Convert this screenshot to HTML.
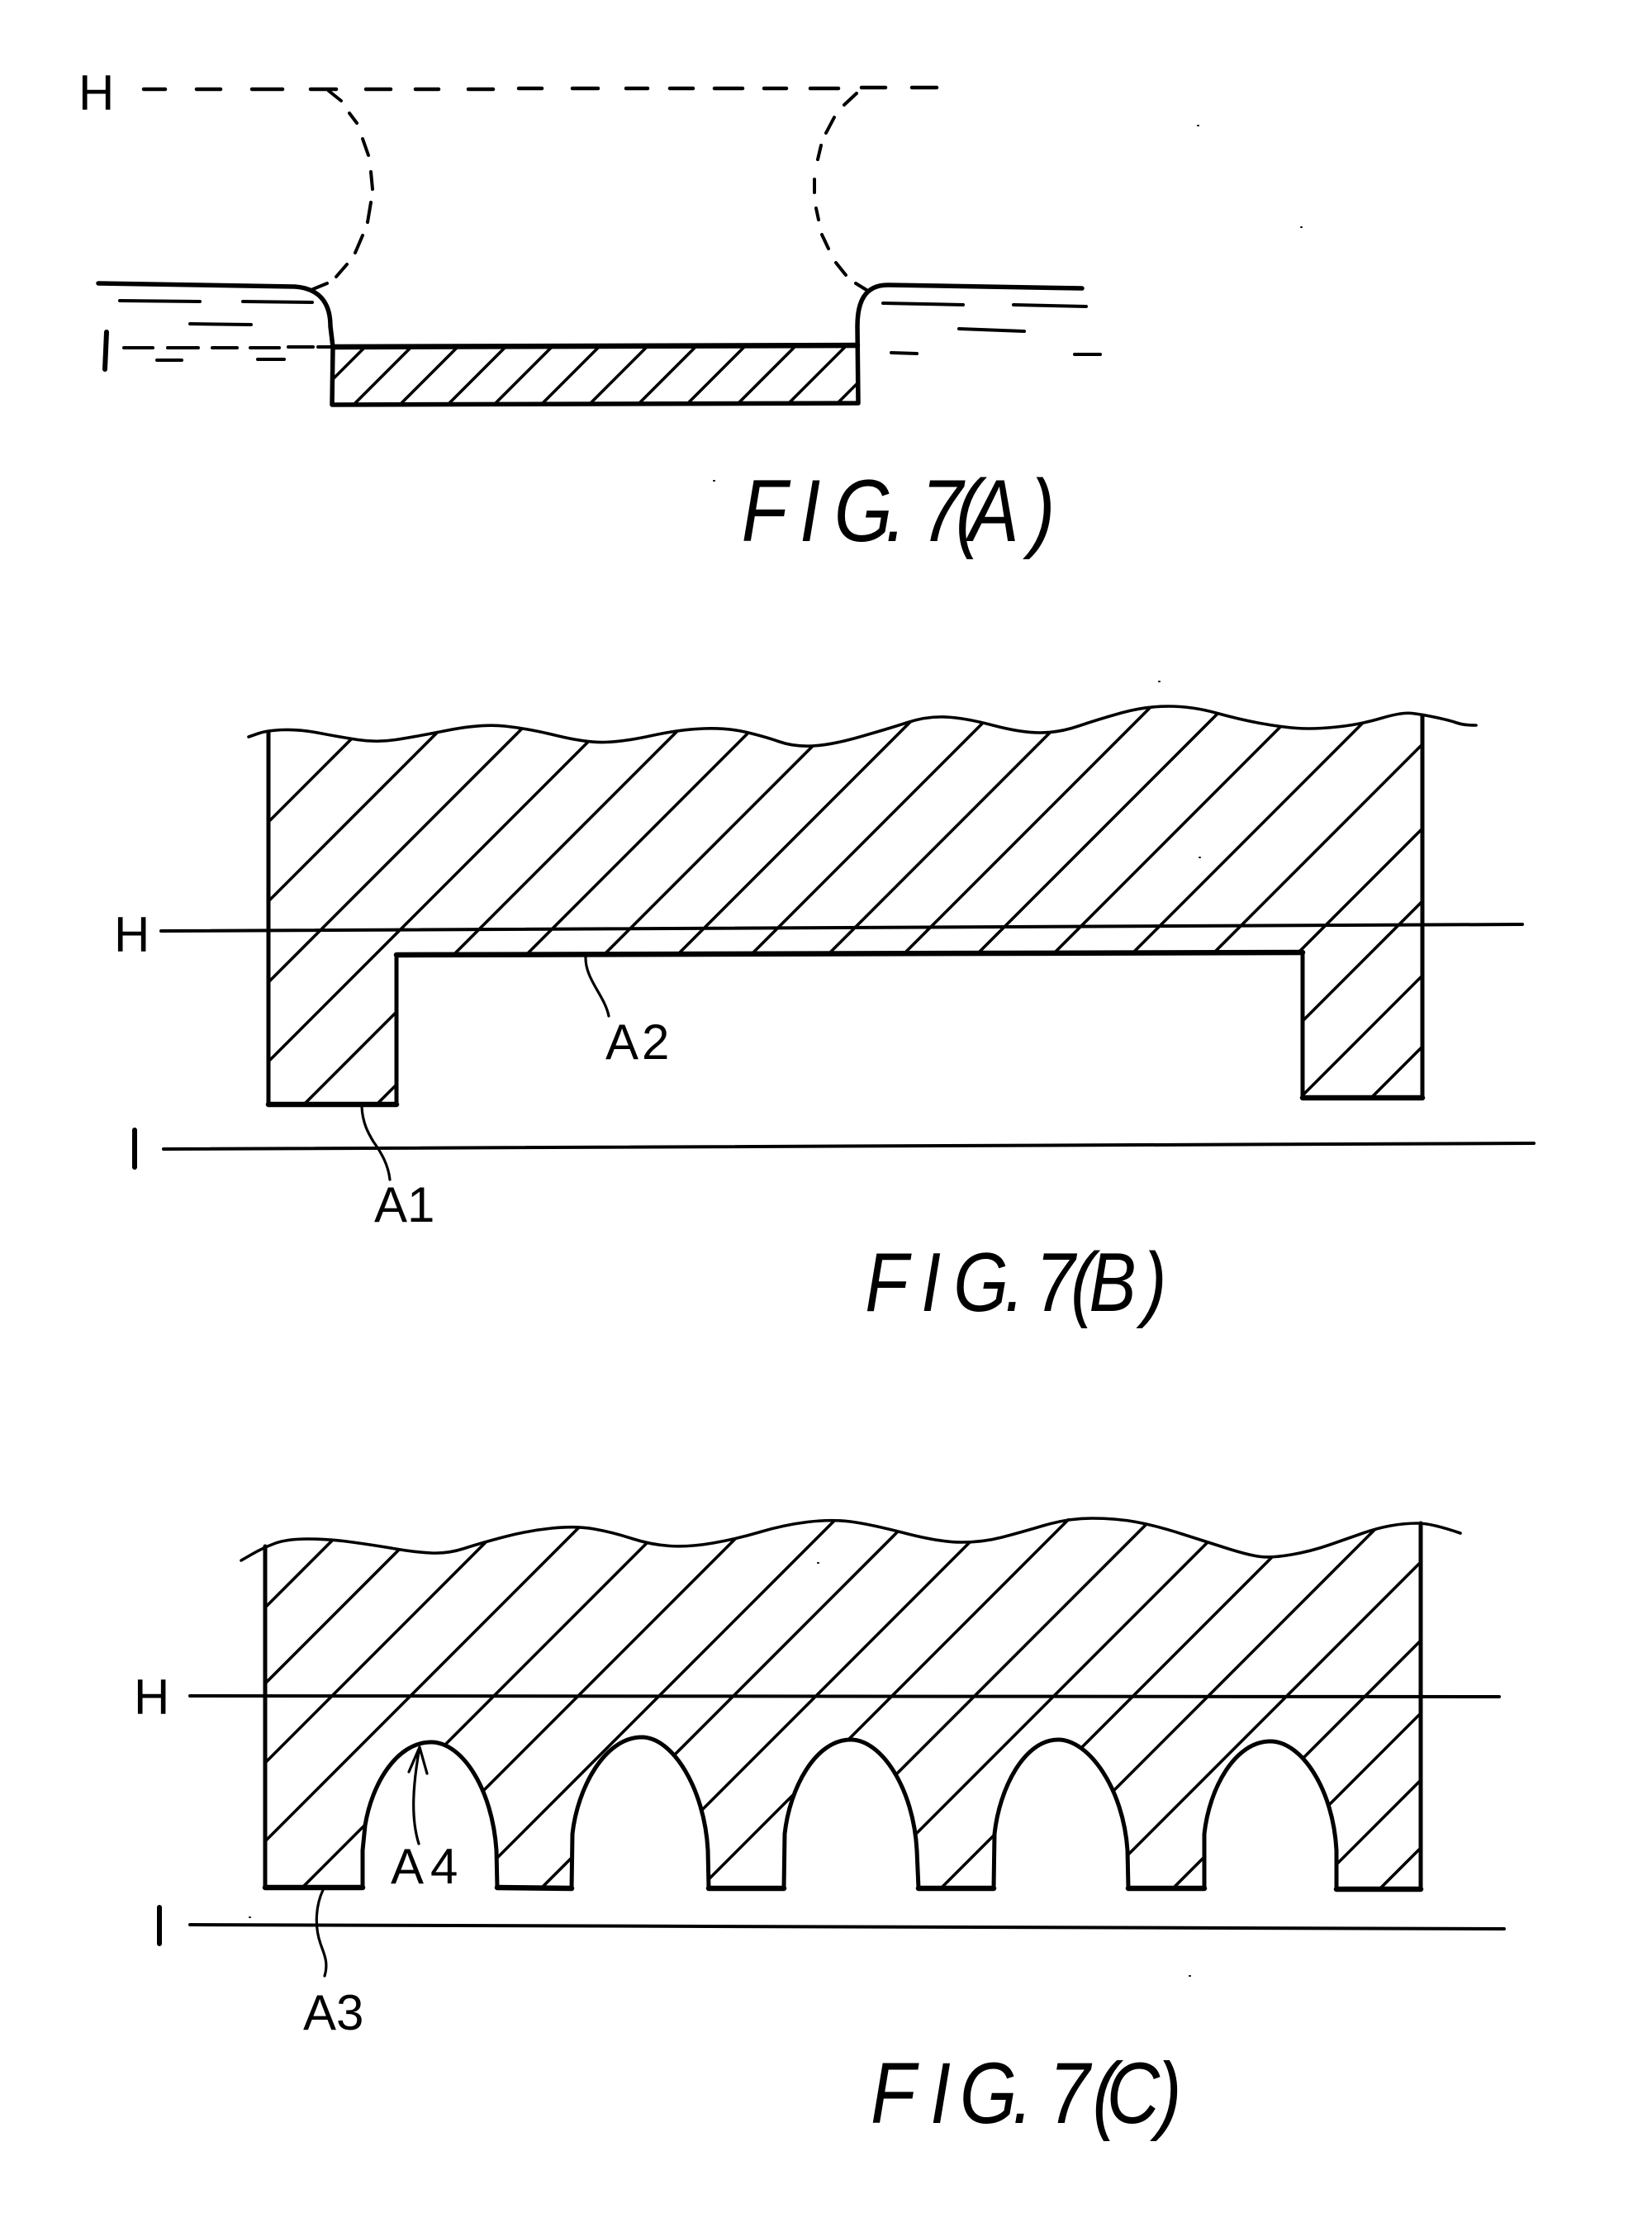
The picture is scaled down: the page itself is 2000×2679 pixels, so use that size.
<!DOCTYPE html>
<html><head><meta charset="utf-8"><title>FIG.7</title>
<style>
html,body{margin:0;padding:0;background:#fff}
svg{display:block}
text{font-family:"Liberation Sans",sans-serif;fill:#000}
.fig{font-style:italic}
.lbl{font-size:60px}
</style></head><body>
<svg xmlns="http://www.w3.org/2000/svg" width="2000" height="2679" viewBox="0 0 2000 2679">
<defs>
<clipPath id="ca"><rect x="404" y="420" width="633" height="68"/></clipPath>
<clipPath id="cb"><path d="M324 884L364 883L410 892L456 899L502 892L583 876L639 882L709 899L755 898L823 883L881 881L927 892L961 904L1006 902L1076 882L1122 867L1168 869L1236 887L1282 887L1329 871L1386 855L1443 855L1501 871L1550 880L1590 883L1647 877L1697 862L1722 865L1722 1329L1577 1329L1577 1153L480 1156L480 1337L325 1337Z"/></clipPath>
<clipPath id="cc"><path clip-rule="evenodd" d="M321 1870L347 1863L398 1863L456 1871L502 1879L542 1881L582 1868L639 1853L697 1847L742 1855L788 1870L834 1873L892 1863L949 1846L1006 1839L1053 1845L1138 1867L1190 1867L1236 1855L1293 1838L1351 1838L1400 1847L1462 1867L1513 1883L1540 1886L1587 1878L1633 1862L1667 1850L1700 1844L1720 1844L1720 2284L321 2284Z
M439 2284L439 2240L442 2210C450 2160 480 2109 522 2109C559 2109 596 2165 601 2240L602 2284Z
M692 2284L693 2220C699 2165 732 2103 777 2103C814 2103 853 2165 857 2240L858 2284Z
M949 2284L950 2220C956 2165 987 2106 1030 2106C1067 2106 1106 2165 1110 2240L1112 2284Z
M1203 2284L1204 2220C1210 2165 1240 2106 1281 2106C1318 2106 1360 2165 1365 2240L1366 2284Z
M1458 2284L1458 2220C1464 2165 1495 2108 1538 2108C1575 2108 1614 2165 1618 2240L1618 2284Z"/></clipPath>
</defs>
<rect width="2000" height="2679" fill="#fff"/>
<g fill="none" stroke="#000" stroke-linecap="round" stroke-linejoin="round">

<!-- FIG 7A -->
<path stroke-width="4.5" d="M174 108H200M238 108H267M305 108H342M376 108H407M443 108H473M503 108H531M567 108H597M628 107H656M693 107H724M758 107H784M811 107H839M865 107H899M925 107H952M981 107H1015M1043 106H1072M1104 106H1134"/>
<path stroke-width="4" d="M398 110L413 122M423 137L432 149M439 168L446 188M449 208L451 229M449 245L445 269M439 285L430 306M420 320L407 335M396 343L379 350"/>
<path stroke-width="4" d="M1037 113L1022 127M1010 142L1000 161M994 176L990 193M986 217L986 233M988 252L991 266M995 284L1003 301M1012 318L1024 333M1036 343L1049 351"/>
<path stroke-width="5.5" d="M119 343L357 347C385 349 400 365 400 395L403 420L402 490L1039 488L1038 395C1038 365 1047 345 1075 345L1310 349"/>
<path stroke-width="6.5" d="M403 420L1038 418"/>
<path stroke-width="4" d="M150 421H185M203 421H240M257 421H287M303 421H338M349 420H379M385 420H401"/>
<path stroke-width="4" d="M145 364L242 365M294 365L378 366M230 392L304 393M190 436L220 436M312 435L344 435M1069 367L1166 369M1227 369L1315 371M1161 398L1240 401M1079 427L1110 428M1301 429L1332 429"/>
<g clip-path="url(#ca)" stroke-width="3.6" stroke-linecap="butt">
<path d="M462 400L362 500M518 400L418 500M574 400L474 500M632 400L532 500M688 400L588 500M745 400L645 500M803 400L703 500M862 400L762 500M921 400L821 500M982 400L882 500M1043 400L943 500M1102 400L1002 500"/>
</g>

<!-- FIG 7B -->
<g clip-path="url(#cb)" stroke-width="3.6" stroke-linecap="butt">
<path d="M520 800L-80 1400M616 800L16 1400M714 800L114 1400M810 800L210 1400M905 800L305 1400M993 800L393 1400M1087 800L487 1400M1176 800L576 1400M1265 800L665 1400M1358 800L758 1400M1449 800L849 1400M1538 800L938 1400M1630 800L1030 1400M1725 800L1125 1400M1823 800L1223 1400M1925 800L1325 1400M2013 800L1413 1400M2103 800L1503 1400M2189 800L1589 1400"/>
</g>
<path stroke-width="3.6" d="M301 892L312.5 888Q324 884 344 883.5Q364 883 387 887.5Q410 892 433 895.5Q456 899 479 895.5Q502 892 542.5 884Q583 876 611 879Q639 882 674 890.5Q709 899 732 898.5Q755 898 789 890.5Q823 883 852 882Q881 881 904 886.5Q927 892 944 898Q961 904 983.5 903Q1006 902 1041 892Q1076 882 1099 874.5Q1122 867 1145 868Q1168 869 1202 878Q1236 887 1259 887Q1282 887 1305.5 879Q1329 871 1357.5 863Q1386 855 1414.5 855Q1443 855 1472 863Q1501 871 1525.5 875.5Q1550 880 1570 881.5Q1590 883 1618.5 880Q1647 877 1672 869.5Q1697 862 1709.5 863.5Q1722 865 1738.5 868.5Q1755 872 1763.5 875Q1772 878 1787 878"/>
<path stroke-width="5" d="M325 887L325 1337M480 1337L480 1156M1577 1153L1577 1329M1722 1329L1722 866"/>
<path stroke-width="6.5" d="M325 1337L480 1337M480 1156L1577 1153M1577 1329L1722 1329"/>
<path stroke-width="4" d="M195 1127L1843 1119M198 1391L1857 1384"/>
<path stroke-width="3.2" d="M438 1340C439 1360 446 1372 452 1382C462 1396 470 1410 472 1428M709 1158C708 1185 732 1205 737 1230"/>

<!-- FIG 7C -->
<g clip-path="url(#cc)" stroke-width="3.6" stroke-linecap="butt">
<path d="M467 1800L-33 2300M559 1800L59 2300M655 1800L155 2300M750 1800L250 2300M851 1800L351 2300M953 1800L453 2300M1051 1800L551 2300M1141 1800L641 2300M1241 1800L741 2300M1333 1800L833 2300M1433 1800L933 2300M1529 1800L1029 2300M1625 1800L1125 2300M1716 1800L1216 2300M1811 1800L1311 2300M1906 1800L1406 2300M1994 1800L1494 2300M2075 1800L1575 2300M2157 1800L1657 2300"/>
</g>
<path stroke-width="3.6" d="M292 1889L305 1881.5Q318 1874 332.5 1868.5Q347 1863 372.5 1863Q398 1863 427 1867Q456 1871 479 1875Q502 1879 522 1880Q542 1881 562 1874.5Q582 1868 610.5 1860.5Q639 1853 668 1850Q697 1847 719.5 1851Q742 1855 765 1862.5Q788 1870 811 1871.5Q834 1873 863 1868Q892 1863 920.5 1854.5Q949 1846 977.5 1842.5Q1006 1839 1029.5 1842Q1053 1845 1095.5 1856Q1138 1867 1164 1867Q1190 1867 1213 1861Q1236 1855 1264.5 1846.5Q1293 1838 1322 1838Q1351 1838 1375.5 1842.5Q1400 1847 1431 1857Q1462 1867 1487.5 1875Q1513 1883 1526.5 1884.5Q1540 1886 1563.5 1882Q1587 1878 1610 1870Q1633 1862 1650 1856Q1667 1850 1683.5 1847Q1700 1844 1716.5 1844Q1733 1844 1768 1856"/>
<path stroke-width="5" d="M321 1872L321 2285M1720 1844L1720 2286"/>
<path stroke-width="5" d="M439 2285L439 2240L442 2210C450 2160 480 2109 522 2109C559 2109 596 2165 601 2240L602 2285"/>
<path stroke-width="5" d="M692 2286L693 2220C699 2165 732 2103 777 2103C814 2103 853 2165 857 2240L858 2286"/>
<path stroke-width="5" d="M949 2286L950 2220C956 2165 987 2106 1030 2106C1067 2106 1106 2165 1110 2240L1112 2286"/>
<path stroke-width="5" d="M1203 2286L1204 2220C1210 2165 1240 2106 1281 2106C1318 2106 1360 2165 1365 2240L1366 2286"/>
<path stroke-width="5" d="M1458 2286L1458 2220C1464 2165 1495 2108 1538 2108C1575 2108 1614 2165 1618 2240L1618 2286"/>
<path stroke-width="6.5" d="M321 2285L439 2285M602 2285L692 2286M858 2286L949 2286M1112 2286L1203 2286M1366 2286L1458 2286M1618 2287L1720 2287"/>
<path stroke-width="4" d="M230 2053L1815 2054M230 2330L1821 2335"/>
<path stroke-width="3.2" d="M391 2288C383 2305 380 2330 388 2353C392 2365 398 2375 393 2392"/>
<path stroke-width="3.2" d="M507 2232C497 2200 500 2160 508 2115M495 2145L508 2115L517 2147"/>

<!-- I labels -->
<path stroke-width="6" d="M129 402L127 447M163 1368L163 1413M193 2309L193 2353"/>

<!-- specks -->
<path stroke-width="2" d="M1450 152h1M1575 275h1M864 582h1M1403 825h1M1452 1038h1M990 1892h1M1440 2392h1M302 2321h1"/>
</g>

<!-- labels -->
<text class="lbl" x="95" y="133">H</text>
<text class="lbl" x="138" y="1152">H</text>
<text class="lbl" x="162" y="2075">H</text>

<text class="lbl" x="453 493" y="1479">A1</text>
<text class="lbl" x="733 777" y="1282">A2</text>
<text class="lbl" x="367 407" y="2457">A3</text>
<text class="lbl" x="473 521" y="2280">A4</text>

<g transform="scale(.85 1)">
<text class="fig" x="1056 1139 1188 1261 1312 1361 1380 1467" y="655" style="font-size:107px">FIG.7(A)</text>
<text class="fig" x="1232 1312 1358 1431 1475 1525 1551 1628" y="1587" style="font-size:101px">FIG.7(B)</text>
<text class="fig" x="1240 1325 1367 1442 1494 1556 1576 1648" y="2570" style="font-size:105px">FIG.7(C)</text>
</g>
</svg>
</body></html>
